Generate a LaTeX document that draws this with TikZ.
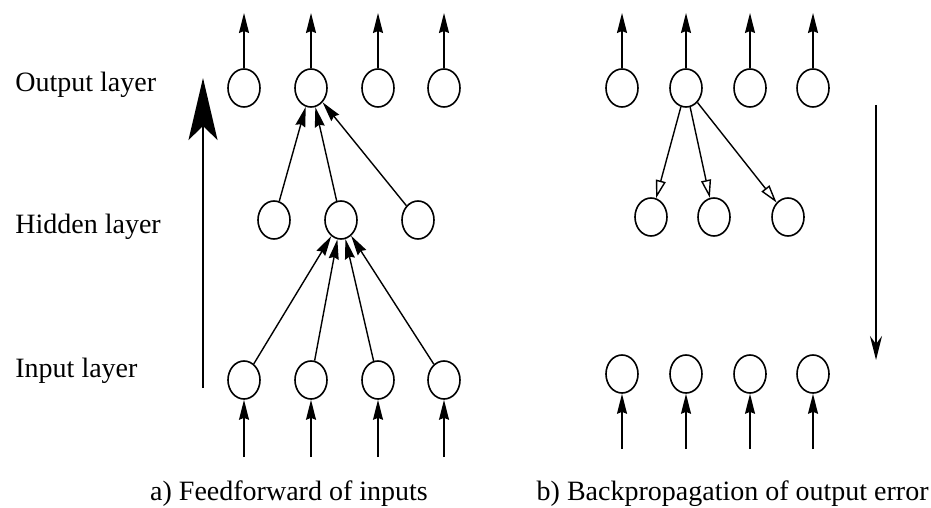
\documentclass[tikz,border=0pt]{standalone}
\usepackage{fontspec}
\setmainfont{Liberation Serif}
\usetikzlibrary{arrows.meta}
\usetikzlibrary{shapes.geometric}

\begin{document}
\begin{tikzpicture}[x=0.5pt,y=-0.5pt,
	neuron/.style={draw,ellipse,line width=0.8pt,minimum width=16pt,minimum height=19pt,inner sep=0pt},
	lbl/.style={font=\fontsize{14}{16}\selectfont,anchor=base west,inner sep=0pt},
	captxt/.style={font=\fontsize{14}{16}\selectfont,anchor=base,inner sep=0pt},
	fwd/.style={-{Stealth[length=10pt,width=5pt,inset=1pt]},line width=0.7pt},
	bwd/.style={-{Triangle[open,length=9pt,width=5pt]},line width=0.7pt}]

	\useasboundingbox (0,0) rectangle (931,508);

	\node[lbl] (lout) at (15,92) {Output layer};
	\node[lbl] (lhid) at (15,233) {Hidden layer};
	\node[lbl] (lin) at (15,377) {Input layer};

	% a) feedforward
	\foreach \x [count=\i] in {244,311,378,444} {
		\node[neuron] (ao\i) at (\x,88) {};
		\node[neuron] (ai\i) at (\x,380) {};
		\coordinate (at\i) at (\x,13);
		\coordinate (ab\i) at (\x,457);
		\draw[fwd] (ao\i) -- (at\i);
		\draw[fwd] (ab\i) -- (ai\i);
	}
	\foreach \x [count=\i] in {274,341,418}
		\node[neuron] (ah\i) at (\x,220) {};

	\foreach \i in {1,...,4}
		\draw[fwd] (ai\i) -- (ah2);
	\foreach \i in {1,2,3}
		\draw[fwd] (ah\i) -- (ao2);

	\coordinate (fb) at (203,388);
	\coordinate (ft) at (203,78);
	\draw[-{Stealth[length=31pt,width=14.5pt,inset=7pt]},line width=1pt] (fb) -- (ft);

	% b) backpropagation
	\foreach \x [count=\i] in {622,686,750,813} {
		\node[neuron] (bo\i) at (\x,88) {};
		\node[neuron] (bi\i) at (\x,374) {};
		\coordinate (bt\i) at (\x,13);
		\coordinate (bb\i) at (\x,449);
		\draw[fwd] (bo\i) -- (bt\i);
		\draw[fwd] (bb\i) -- (bi\i);
	}
	\foreach \x [count=\i] in {651,714,788}
		\node[neuron] (bh\i) at (\x,217) {};

	\foreach \i in {1,2,3}
		\draw[bwd] (bo2) -- (bh\i);

	\coordinate (bs) at (876,105);
	\coordinate (be) at (876,360);
	\draw[-{Stealth[length=12pt,width=6pt,inset=4pt]},line width=1pt] (bs) -- (be);

	\node[captxt] (capa) at (289,500) {a) Feedforward of inputs};
	\node[captxt,anchor=base east] (capb) at (929,500) {b) Backpropagation of output error};
\end{tikzpicture}
\end{document}
